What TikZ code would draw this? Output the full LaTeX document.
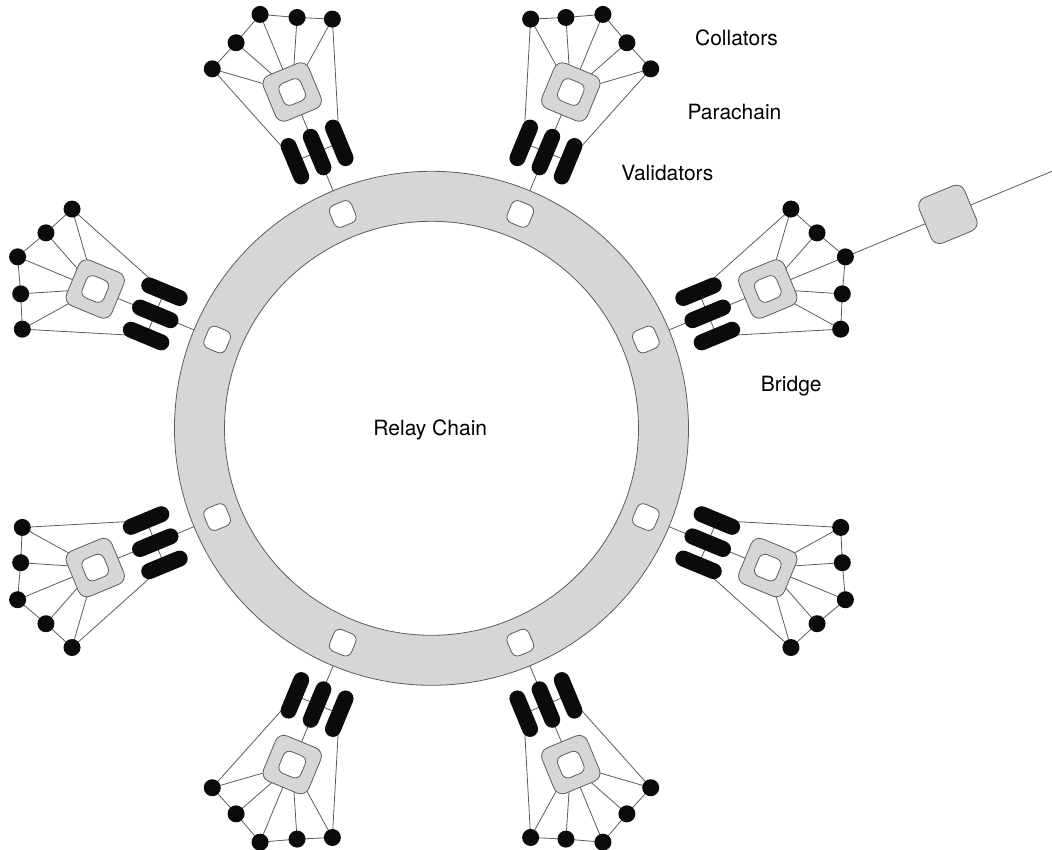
\documentclass[tikz,border=0pt]{standalone}
\usepackage{fontspec}
\setmainfont{TeX Gyre Heros}
\usetikzlibrary{backgrounds}
\definecolor{ringgrey}{HTML}{D6D6D6}
\definecolor{edge}{HTML}{5C5C5C}
\definecolor{ink}{HTML}{0B0B0B}

\tikzset{
  wire/.style={draw=edge,line width=0.8pt},
  port/.style={draw=edge,line width=0.8pt,fill=white,rounded corners=6.5pt,
    minimum size=23.5pt,inner sep=0pt},
  parablock/.style={draw=edge,line width=0.8pt,fill=ringgrey,rounded corners=9pt,
    minimum size=49pt,inner sep=0pt},
  validator/.style={fill=ink,rounded corners=8pt,minimum width=49pt,
    minimum height=16pt,inner sep=0pt},
  collator/.style={circle,fill=ink,minimum size=17pt,inner sep=0pt},
  caption/.style={font=\fontsize{21}{25}\selectfont,anchor=base,inner sep=0pt}
}

\begin{document}
\begin{tikzpicture}[x=1pt,y=1pt]
\useasboundingbox (-431.5,-421.7) rectangle (620.5,428.3);

% relay chain
\fill[ringgrey,even odd rule] (0,0) circle (257) (0,0) circle (207);
\draw[edge,line width=0.8pt] (0,0) circle (257) (0,0) circle (207);
\node[caption] (relay) at (-1.2,-7.7) {Relay Chain};

% one parachain every 45 degrees
\foreach \a [count=\i] in {22.5,67.5,...,337.5} {
  \begin{scope}[rotate=\a,transform shape]
    \node[port] (port-\i) at (232,0) {};
    \node[validator] (val-\i-a) at (299,24) {};
    \node[validator] (val-\i-b) at (299,0) {};
    \node[validator] (val-\i-c) at (299,-24) {};
    \node[parablock] (para-\i) at (364,0) {};
    \node[port] (hole-\i) at (364,0) {};
    \node[collator] (col-\i-1) at (416,65) {};
    \node[collator] (col-\i-2) at (431,33) {};
    \node[collator] (col-\i-3) at (448,0) {};
    \node[collator] (col-\i-4) at (431,-33) {};
    \node[collator] (col-\i-5) at (416,-65) {};
  \end{scope}
  \begin{scope}[on background layer]
    \draw[wire] (port-\i.center) -- (val-\i-b.center) -- (para-\i.center)
      -- (col-\i-3.center);
    \draw[wire] (val-\i-a.center) -- (val-\i-c.center);
    \draw[wire] (col-\i-1.center) -- (col-\i-2.center) -- (col-\i-3.center)
      -- (col-\i-4.center) -- (col-\i-5.center);
    \foreach \k in {1,2,4,5}
      \draw[wire] (para-\i.center) -- (col-\i-\k.center);
    \draw[wire] (col-\i-1.center) -- (val-\i-a.center);
    \draw[wire] (col-\i-5.center) -- (val-\i-c.center);
  \end{scope}
}

% bridge out of the first parachain
\node[parablock,rotate=22.5] (bridge) at (22.5:559) {};
\coordinate (away) at (22.5:690);
\begin{scope}[on background layer]
  \draw[wire] (col-1-3.center) -- (bridge.center) -- (away);
\end{scope}

% labels
\node[caption] (collators) at (305,382.3) {Collators};
\node[caption] (parachain) at (303,308.3) {Parachain};
\node[caption] (validators) at (235.8,247.3) {Validators};
\node[caption] (bridgelabel) at (359.8,36.6) {Bridge};
\end{tikzpicture}
\end{document}
